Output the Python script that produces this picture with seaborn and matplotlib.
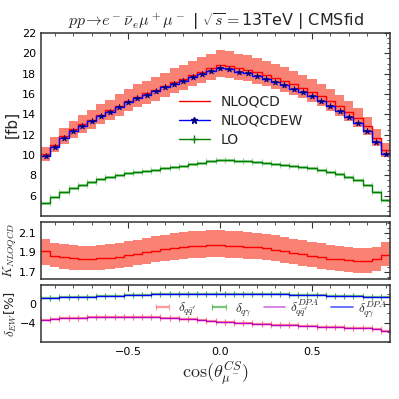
import numpy as np
import seaborn as sns
import matplotlib
matplotlib.use("Agg")
import matplotlib.pyplot as plt
from matplotlib.lines import Line2D
from matplotlib.ticker import MultipleLocator, AutoMinorLocator

# bin centres in cos(theta_mu^CS), width 0.05
centers = [-0.95, -0.90, -0.85, -0.80, -0.75, -0.70, -0.65, -0.60, -0.55, -0.50,
           -0.45, -0.40, -0.35, -0.30, -0.25, -0.20, -0.15, -0.10, -0.05, 0.00,
           0.05, 0.10, 0.15, 0.20, 0.25, 0.30, 0.35, 0.40, 0.45, 0.50,
           0.55, 0.60, 0.65, 0.70, 0.75, 0.80, 0.85, 0.90]
bin_w = 0.05

# LO cross section [fb]
lo = [5.3, 5.9, 6.4, 6.8, 7.1, 7.35, 7.6, 7.8, 8.0, 8.2,
      8.35, 8.45, 8.55, 8.7, 8.85, 8.95, 9.1, 9.25, 9.4, 9.55,
      9.55, 9.45, 9.4, 9.3, 9.2, 9.15, 9.05, 8.95, 8.85, 8.7,
      8.55, 8.35, 8.1, 7.85, 7.55, 7.1, 6.4, 5.6]

# K factor NLOQCD/LO with scale band
k_nlo = [1.91, 1.865, 1.85, 1.84, 1.835, 1.835, 1.84, 1.845, 1.855, 1.87,
         1.885, 1.90, 1.915, 1.93, 1.94, 1.95, 1.96, 1.965, 1.97, 1.97,
         1.965, 1.96, 1.955, 1.95, 1.94, 1.925, 1.91, 1.895, 1.88, 1.865,
         1.85, 1.835, 1.825, 1.815, 1.81, 1.81, 1.825, 1.875]
k_up = [2.04, 1.995, 1.98, 1.97, 1.965, 1.965, 1.975, 1.98, 1.995, 2.01,
        2.03, 2.045, 2.065, 2.08, 2.095, 2.105, 2.115, 2.12, 2.125, 2.125,
        2.12, 2.115, 2.11, 2.10, 2.09, 2.075, 2.06, 2.04, 2.025, 2.005,
        1.99, 1.975, 1.96, 1.95, 1.94, 1.94, 1.955, 2.005]
k_dn = [1.77, 1.745, 1.73, 1.72, 1.715, 1.715, 1.72, 1.725, 1.735, 1.75,
        1.765, 1.78, 1.795, 1.81, 1.82, 1.83, 1.84, 1.845, 1.85, 1.85,
        1.845, 1.84, 1.835, 1.83, 1.82, 1.805, 1.79, 1.775, 1.76, 1.745,
        1.73, 1.715, 1.705, 1.695, 1.69, 1.69, 1.705, 1.755]

# EW corrections [%]
d_qq = [-3.4, -3.2, -3.05, -2.95, -2.85, -2.8, -2.75, -2.7, -2.7, -2.65,
        -2.65, -2.7, -2.75, -2.85, -2.95, -3.1, -3.25, -3.4, -3.55, -3.7,
        -3.85, -3.95, -4.05, -4.15, -4.25, -4.35, -4.45, -4.5, -4.6, -4.7,
        -4.75, -4.85, -4.95, -5.0, -5.05, -5.1, -5.2, -5.6]
d_qg = [1.3, 1.35, 1.4, 1.45, 1.5, 1.55, 1.6, 1.7, 1.75, 1.8,
        1.9, 1.95, 2.0, 2.05, 2.1, 2.1, 2.15, 2.2, 2.2, 2.2,
        2.2, 2.2, 2.15, 2.15, 2.1, 2.05, 2.0, 1.95, 1.9, 1.85,
        1.8, 1.75, 1.7, 1.65, 1.6, 1.55, 1.5, 1.45]

sns.set_style("white")
plt.rcParams["mathtext.fontset"] = "cm"
plt.rcParams["font.family"] = ["DejaVu Sans"]
plt.rcParams["xtick.direction"] = "in"
plt.rcParams["ytick.direction"] = "in"

x = np.array(centers)
edges = np.append(x - bin_w / 2, x[-1] + bin_w / 2)
lo_a = np.array(lo)
nlo = lo_a * np.array(k_nlo)
nlo_up = lo_a * np.array(k_up)
nlo_dn = lo_a * np.array(k_dn)
nloew = nlo * (1 + (np.array(d_qq) + np.array(d_qg)) / 100)


def ext(v):
    v = np.asarray(v)
    return np.append(v, v[-1])


fig = plt.figure(figsize=(3.99, 3.99), dpi=100)
ax1 = fig.add_axes([0.1028, 0.4586, 0.875, 0.4586])
ax2 = fig.add_axes([0.1028, 0.3008, 0.875, 0.1429])
ax3 = fig.add_axes([0.1028, 0.1429, 0.875, 0.1429])

salmon = "#f98274"

# top panel
ax1.fill_between(edges, ext(nlo_up), ext(nlo_dn), step="post", color=salmon, lw=0)
sns.lineplot(x=edges, y=ext(nlo), drawstyle="steps-post", color="red", lw=1, ax=ax1)
sns.lineplot(x=edges, y=ext(nloew), drawstyle="steps-post", color="blue", lw=1, ax=ax1)
sns.scatterplot(x=x, y=nloew, marker="*", color="navy", s=22, edgecolor="navy", ax=ax1, zorder=5)
ax1.errorbar(x, lo_a, xerr=bin_w / 2, fmt="none", ecolor="#8fd18f", elinewidth=2.2,
             capsize=2, capthick=0.8, alpha=0.8)
sns.lineplot(x=edges, y=ext(lo_a), drawstyle="steps-post", color="green", lw=1, ax=ax1)

handles = [Line2D([], [], color="red", lw=1),
           Line2D([], [], color="blue", lw=1, marker="*", markerfacecolor="navy",
                  markeredgecolor="navy", markersize=5),
           Line2D([], [], color="green", lw=1, marker="+", markersize=6)]
ax1.legend(handles, ["NLOQCD", "NLOQCDEW", "LO"], loc="upper left",
           bbox_to_anchor=(0.36, 0.73), frameon=False, fontsize=10,
           handlelength=2.2, labelspacing=0.35)
ax1.set_ylim(4, 22)
ax1.set_yticks([6, 8, 10, 12, 14, 16, 18, 20, 22])
ax1.set_ylabel("[fb]", fontsize=11)
ax1.set_title(r"$pp\!\to\! e^-\bar{\nu}_e\mu^+\mu^-$ | $\sqrt{s}=$13TeV | CMSfid",
              fontsize=11.5, pad=5)

# K factor panel
ax2.fill_between(edges, ext(k_up), ext(k_dn), step="post", color=salmon, lw=0)
sns.lineplot(x=edges, y=ext(k_nlo), drawstyle="steps-post", color="red", lw=1, ax=ax2)
ax2.set_ylim(1.625, 2.21)
ax2.set_yticks([1.7, 1.9, 2.1])
ax2.set_ylabel(r"$K_{NLOQCD}$", fontsize=9.5)

# EW panel
eb_qq = ax3.errorbar(x, d_qq, xerr=bin_w / 2, fmt="none", ecolor="#ff6f6f", elinewidth=1.6,
                     capsize=2, capthick=0.8, alpha=0.7)
eb_qg = ax3.errorbar(x, d_qg, xerr=bin_w / 2, fmt="none", ecolor="#3fae3f", elinewidth=1.6,
                     capsize=2, capthick=0.8, alpha=0.7)
sns.lineplot(x=edges, y=ext(d_qq), drawstyle="steps-post", color="m", lw=1, ax=ax3)
sns.lineplot(x=edges, y=ext(d_qg), drawstyle="steps-post", color="blue", lw=1, ax=ax3)
h3 = [eb_qq, eb_qg,
      Line2D([], [], color="#d070e0", lw=1.2),
      Line2D([], [], color="#5060ff", lw=1.2)]
ax3.legend(h3, [r"$\delta_{q\bar{q}'}$", r"$\delta_{q\gamma}$",
                r"$\delta_{q\bar{q}'}^{DPA}$", r"$\delta_{q\gamma}^{DPA}$"],
           loc="center", bbox_to_anchor=(0.655, 0.58), ncol=4, frameon=False,
           fontsize=9.5, handlelength=1.6, columnspacing=0.9, handletextpad=0.4)
ax3.set_ylim(-8, 4)
ax3.set_yticks([-4, 0])
ax3.yaxis.set_minor_locator(MultipleLocator(2))
ax3.set_ylabel(r"$\delta_{EW}$[%]", fontsize=9.5)
ax3.set_xlabel(r"$\cos(\theta^{CS}_{\mu^-})$", fontsize=13, labelpad=2)

for ax in (ax1, ax2, ax3):
    ax.set_xlim(edges[0], edges[-1])
    ax.yaxis.set_label_coords(-0.062, 0.5)
    ax.xaxis.set_major_locator(MultipleLocator(0.5))
    ax.xaxis.set_minor_locator(MultipleLocator(0.1))
    if ax is not ax3:
        ax.yaxis.set_minor_locator(AutoMinorLocator())
    ax.tick_params(which="both", top=True, right=True, labelsize=8, colors="#333333",
                   labelcolor="black")
    ax.tick_params(which="major", length=4)
    ax.tick_params(which="minor", length=2)
    for s in ax.spines.values():
        s.set_color("#333333")
        s.set_linewidth(1.1)
ax1.tick_params(labelbottom=False)
ax2.tick_params(labelbottom=False)

fig.savefig("out.png", dpi=100)
